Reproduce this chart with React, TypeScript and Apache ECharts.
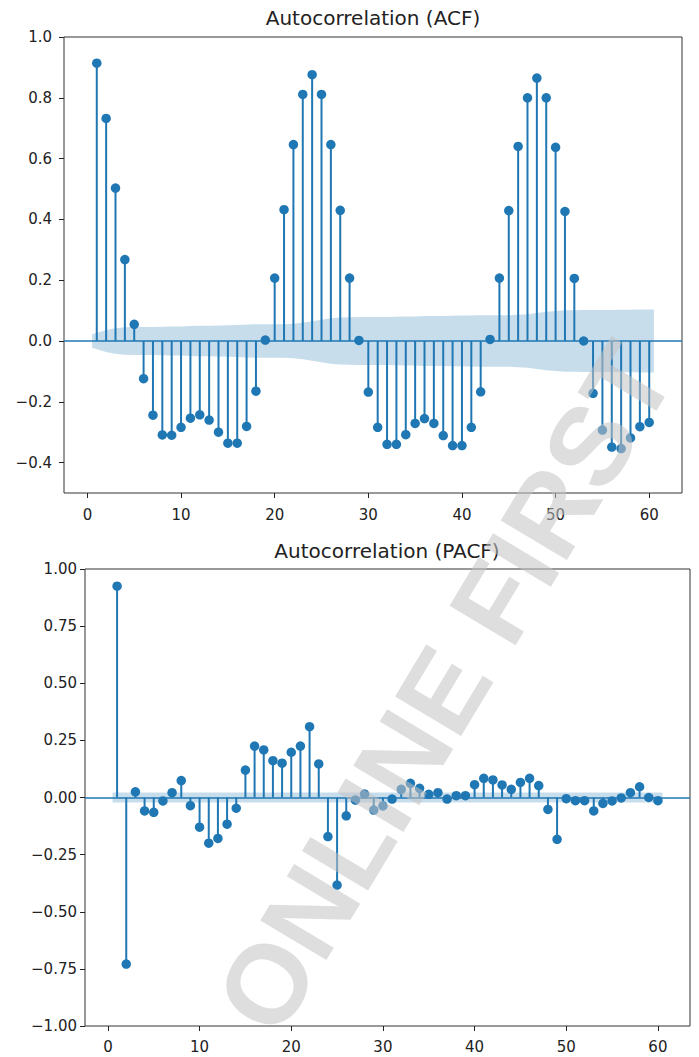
import React, { useEffect, useRef } from "react";
import * as echarts from "echarts";

const lags = [
  1, 2, 3, 4, 5, 6, 7, 8, 9, 10, 11, 12, 13, 14, 15, 16, 17, 18, 19, 20,
  21, 22, 23, 24, 25, 26, 27, 28, 29, 30, 31, 32, 33, 34, 35, 36, 37, 38, 39, 40,
  41, 42, 43, 44, 45, 46, 47, 48, 49, 50, 51, 52, 53, 54, 55, 56, 57, 58, 59, 60,
];

const acfValues = [
  0.914, 0.732, 0.503, 0.268, 0.055, -0.124, -0.244, -0.309, -0.31, -0.284,
  -0.254, -0.243, -0.26, -0.3, -0.336, -0.336, -0.281, -0.165, 0.003, 0.207,
  0.432, 0.646, 0.811, 0.876, 0.811, 0.646, 0.43, 0.207, 0.002, -0.168,
  -0.284, -0.34, -0.34, -0.308, -0.271, -0.255, -0.271, -0.311, -0.344, -0.344,
  -0.284, -0.167, 0.005, 0.207, 0.429, 0.64, 0.8, 0.865, 0.8, 0.637,
  0.426, 0.206, 0.0, -0.172, -0.293, -0.349, -0.354, -0.319, -0.282, -0.268,
];

// half-width of the shaded confidence band around zero (ACF)
const acfBand = [
  0.022, 0.036, 0.042, 0.045, 0.046, 0.046, 0.046, 0.047, 0.048, 0.048,
  0.049, 0.05, 0.05, 0.051, 0.052, 0.053, 0.054, 0.055, 0.055, 0.055,
  0.055, 0.057, 0.06, 0.065, 0.07, 0.075, 0.077, 0.078, 0.079, 0.079,
  0.079, 0.079, 0.08, 0.081, 0.081, 0.082, 0.082, 0.082, 0.083, 0.084,
  0.084, 0.085, 0.085, 0.085, 0.085, 0.086, 0.088, 0.092, 0.096, 0.099,
  0.101, 0.101, 0.102, 0.102, 0.102, 0.102, 0.103, 0.103, 0.104, 0.104,
];

const pacfValues = [
  0.925, -0.729, 0.025, -0.059, -0.065, -0.015, 0.021, 0.074, -0.036, -0.13,
  -0.2, -0.179, -0.117, -0.047, 0.12, 0.225, 0.208, 0.161, 0.15, 0.198,
  0.225, 0.31, 0.147, -0.171, -0.383, -0.08, -0.011, 0.015, -0.055, -0.037,
  -0.007, 0.036, 0.062, 0.04, 0.014, 0.021, -0.007, 0.008, 0.008, 0.056,
  0.084, 0.077, 0.055, 0.036, 0.066, 0.084, 0.052, -0.052, -0.183, -0.005,
  -0.014, -0.014, -0.059, -0.026, -0.015, -0.002, 0.021, 0.047, 0.0, -0.014,
];

const pacfBandHalf = 0.022;

const xTicks = [0, 10, 20, 30, 40, 50, 60];
const acfYTicks = [-0.4, -0.2, 0.0, 0.2, 0.4, 0.6, 0.8, 1.0];
const pacfYTicks = [-1.0, -0.75, -0.5, -0.25, 0.0, 0.25, 0.5, 0.75, 1.0];

const acfTitle = "Autocorrelation (ACF)";
const pacfTitle = "Autocorrelation (PACF)";
const watermark = "ONLINE FIRST";

const BLUE = "#1f77b4";
const FONT = "DejaVu Sans";

function fmt(v: number, d: number) {
  return v.toFixed(d).replace("-", "\u2212");
}

export default function App() {
  const ref = useRef<HTMLDivElement>(null);

  useEffect(() => {
    if (!ref.current) return;
    const chart = echarts.init(ref.current, undefined, { renderer: "svg" });

    const last = lags.length - 1;
    const bandX = lags.map((l, i) => (i === 0 ? l - 0.5 : i === last ? l + 0.5 : l));

    const bandSeries = (idx: number, half: (i: number) => number) => ({
      type: "custom",
      xAxisIndex: idx,
      yAxisIndex: idx,
      silent: true,
      z: 5,
      data: [[0, 0]],
      renderItem: (_p: any, api: any) => {
        const upper = bandX.map((x, i) => api.coord([x, half(i)]));
        const lower = bandX.map((x, i) => api.coord([x, -half(i)])).reverse();
        return {
          type: "polygon",
          shape: { points: upper.concat(lower) },
          style: { fill: "rgba(31,119,180,0.25)", stroke: "none" },
        };
      },
    });

    const stems = (idx: number, vals: number[]) => ({
      type: "bar",
      xAxisIndex: idx,
      yAxisIndex: idx,
      barWidth: 2,
      silent: true,
      z: 2,
      itemStyle: { color: BLUE },
      data: lags.map((l, i) => [l, vals[i]]),
    });

    const dots = (idx: number, vals: number[]) => ({
      type: "scatter",
      xAxisIndex: idx,
      yAxisIndex: idx,
      symbol: "circle",
      symbolSize: 9.5,
      silent: true,
      z: 4,
      itemStyle: { color: BLUE, opacity: 1 },
      data: lags.map((l, i) => [l, vals[i]]),
      markLine: {
        silent: true,
        symbol: ["none", "none"],
        label: { show: false },
        lineStyle: { color: BLUE, width: 1.6, type: "solid" },
        data: [{ yAxis: 0 }],
        z: 3,
      },
    });

    const xAxis = (idx: number, margin: number) => ({
      gridIndex: idx,
      type: "value",
      min: -2.5,
      max: 63.5,
      splitLine: { show: false },
      axisLine: { show: false, onZero: false },
      axisTick: {
        show: true,
        customValues: xTicks,
        length: 5,
        lineStyle: { color: "#222", width: 1 },
      },
      axisLabel: {
        customValues: xTicks,
        color: "#222",
        fontSize: 15,
        fontFamily: FONT,
        margin,
        formatter: (v: number) => String(v),
      },
    });

    const yAxis = (idx: number, min: number, max: number, ticks: number[], d: number, margin: number) => ({
      gridIndex: idx,
      type: "value",
      min,
      max,
      splitLine: { show: false },
      axisLine: { show: false, onZero: false },
      axisTick: {
        show: true,
        customValues: ticks,
        length: 5,
        lineStyle: { color: "#222", width: 1 },
      },
      axisLabel: {
        customValues: ticks,
        color: "#222",
        fontSize: 15,
        fontFamily: FONT,
        margin,
        formatter: (v: number) => fmt(v, d),
      },
    });

    chart.setOption({
      animation: false,
      backgroundColor: "#ffffff",
      grid: [
        { left: 64, top: 37, width: 618, height: 456, show: true, borderColor: "#333", borderWidth: 1, backgroundColor: "transparent" },
        { left: 85, top: 569, width: 605, height: 457, show: true, borderColor: "#333", borderWidth: 1, backgroundColor: "transparent" },
      ],
      xAxis: [xAxis(0, 14), xAxis(1, 13)],
      yAxis: [
        yAxis(0, -0.5, 1.0, acfYTicks, 1, 12),
        yAxis(1, -1.0, 1.0, pacfYTicks, 2, 8),
      ],
      series: [
        bandSeries(0, (i) => acfBand[i]),
        stems(0, acfValues),
        dots(0, acfValues),
        bandSeries(1, () => pacfBandHalf),
        stems(1, pacfValues),
        dots(1, pacfValues),
      ],
      graphic: [
        {
          type: "text",
          x: 373,
          y: 18,
          z: 50,
          style: {
            text: acfTitle,
            fill: "#222",
            fontSize: 20,
            fontFamily: FONT,
            align: "center",
            verticalAlign: "middle",
            textAlign: "center",
            textVerticalAlign: "middle",
          },
        },
        {
          type: "text",
          x: 387,
          y: 551,
          z: 50,
          style: {
            text: pacfTitle,
            fill: "#222",
            fontSize: 20,
            fontFamily: FONT,
            align: "center",
            verticalAlign: "middle",
            textAlign: "center",
            textVerticalAlign: "middle",
          },
        },
        {
          type: "text",
          x: 445,
          y: 688,
          z: 100,
          rotation: (59 * Math.PI) / 180,
          silent: true,
          style: {
            text: watermark,
            fill: "rgba(195,195,195,0.55)",
            fontSize: 112,
            fontWeight: "bold",
            fontFamily: "Liberation Sans",
            align: "center",
            verticalAlign: "middle",
            textAlign: "center",
            textVerticalAlign: "middle",
          },
        },
      ],
    });

    return () => chart.dispose();
  }, []);

  return (
    <div
      ref={ref}
      style={{ position: "absolute", left: 0, top: 0, width: 699, height: 1057 }}
    />
  );
}
